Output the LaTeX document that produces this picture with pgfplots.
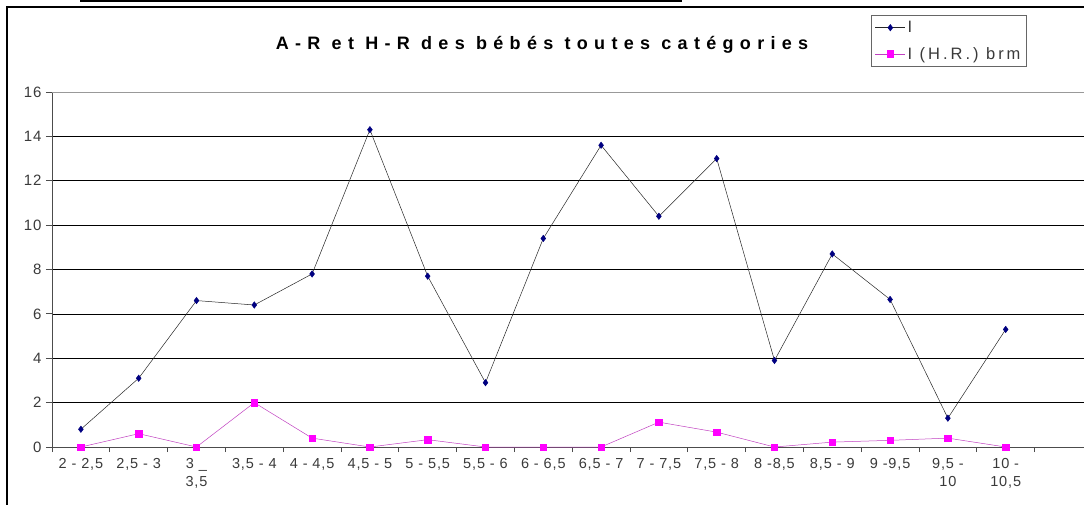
\documentclass[border=0pt]{standalone}
\usepackage{pgfplots}
\pgfplotsset{compat=1.18}
\usetikzlibrary{calc}
\usepackage{fontspec}
\setmainfont{Liberation Sans}
\newfontfamily\titlefont[LetterSpace=35]{Liberation Sans}
\newfontfamily\legfont[LetterSpace=18]{Liberation Sans}
\newfontfamily\tickfont[LetterSpace=6]{Liberation Sans}
\definecolor{navy}{HTML}{000080}
\definecolor{mag}{HTML}{FF00FF}
\definecolor{magline}{HTML}{C040C0}
\definecolor{lbl}{HTML}{3A3A3A}
\begin{document}
\begin{tikzpicture}[x=1pt,y=1pt]
\begin{scope}[overlay]
\begin{axis}[
  scale only axis,
  width=1040.4pt, height=355pt,
  xmin=-0.5, xmax=17.5,
  ymin=0, ymax=16,
  axis lines*=left,
  axis line style={draw=black!70, line width=0.8pt},
  xtick={0,...,16},
  xticklabels={{2 - 2,5}, {2,5 - 3}, {3 \_\\3,5}, {3,5 - 4}, {4 - 4,5}, {4,5 - 5}, {5 - 5,5}, {5,5 - 6}, {6 - 6,5}, {6,5 - 7}, {7 - 7,5}, {7,5 - 8}, {8 -8,5}, {8,5 - 9}, {9 -9,5}, {9,5 -\\10}, {10 -\\10,5}},
  xticklabel style={font=\tickfont\fontsize{14.5}{18}\selectfont, color=lbl, align=center, anchor=north, yshift=-2pt},
  major x tick style={draw=none},
  minor xtick={-0.5,0.5,...,17.5},
  minor tick length=5pt,
  minor x tick style={draw=black!70, line width=0.8pt},
  ytick={0,2,...,14},
  extra y ticks={16},
  extra y tick style={major grid style={draw=black!40, line width=0.8pt}},
  yticklabel style={font=\tickfont\fontsize{15}{17}\selectfont, color=lbl, xshift=-1pt},
  tick align=outside,
  major tick length=6pt,
  major y tick style={draw=black!70, line width=0.8pt},
  ymajorgrids,
  major grid style={draw=black, line width=0.6pt},
  /pgf/number format/assume math mode=true,
  title={\titlefont\bfseries\fontsize{18}{20}\selectfont A-R et H-R des bébés toutes catégories},
  title style={at={(0.471,1.138)}, anchor=base, yshift=-12pt},
  legend style={at={(0.787,1.217)}, anchor=north west, draw=black!60, line width=0.6pt,
    font=\legfont\fontsize{16.5}{19}\selectfont, text=lbl,
    inner xsep=4pt, inner ysep=4pt, row sep=9pt, cells={anchor=west}},
  legend image code/.code={
    \draw[#1] (0pt,0pt) -- (30pt,0pt);
    \draw[#1, only marks] plot coordinates {(15pt,0pt)};
  },
  clip=false,
]
\coordinate (BL) at (rel axis cs:0,0);
\addplot[draw=black!85, line width=0.5pt, mark=diamond*, mark size=3.2pt,
  mark options={draw=navy, fill=navy, solid}] coordinates {
  (0,0.8) (1,3.1) (2,6.6) (3,6.4) (4,7.8) (5,14.3) (6,7.7) (7,2.9) (8,9.4)
  (9,13.6) (10,10.4) (11,13.0) (12,3.9) (13,8.7) (14,6.65) (15,1.3) (16,5.3)};
\addlegendentry{I}
\addplot[draw=magline, line width=0.5pt, mark=square*, mark size=3.2pt,
  mark options={draw=mag, fill=mag, solid}] coordinates {
  (0,0) (1,0.6) (2,0) (3,2.0) (4,0.4) (5,0) (6,0.33) (7,0) (8,0)
  (9,0) (10,1.12) (11,0.67) (12,0) (13,0.22) (14,0.3) (15,0.4) (16,0)};
\addlegendentry{I (H.R.) brm}
\end{axis}
% outer chart frame (cropped) and remnant of caption underline
\draw[line width=1.3pt,black] ($(BL)+(-45,-80)$) -- ($(BL)+(-45,440)$) -- ($(BL)+(1060,440)$);
\draw[line width=1.6pt,black] ($(BL)+(28,446)$) -- ($(BL)+(630,446)$);
\end{scope}
\path ($(BL)+(-52,-57)$) rectangle ($(BL)+(1032,447)$);
\end{tikzpicture}
\end{document}
